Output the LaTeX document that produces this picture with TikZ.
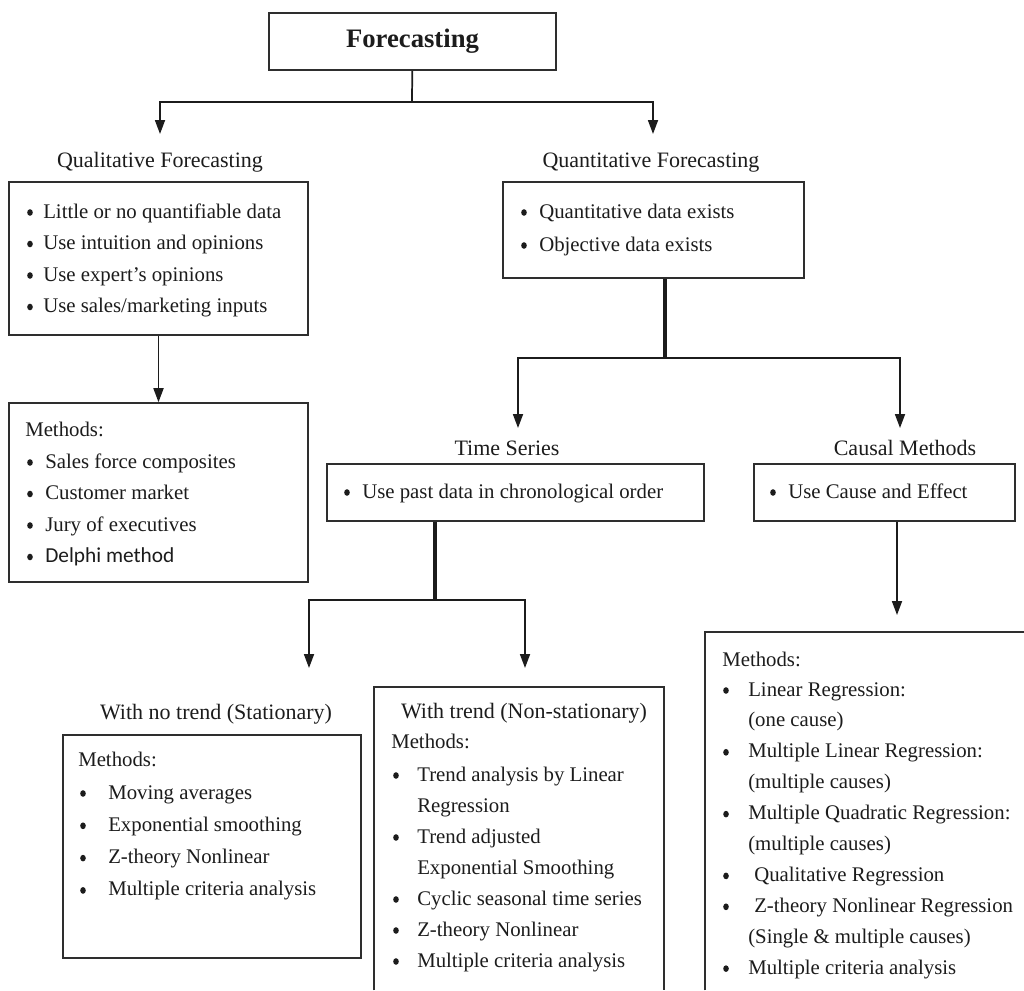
\documentclass[tikz,border=0pt]{standalone}
\usepackage{fontspec}
\setmainfont{Liberation Serif}
\newfontfamily\calibrisub{Carlito}
\usetikzlibrary{arrows.meta,fit,calc}

\definecolor{ink}{HTML}{1C1C1C}
\definecolor{edge}{HTML}{2E2E2E}

\tikzset{
  pbox/.style={draw=edge, line width=1.2pt, inner sep=0pt},
  ln/.style={draw=ink, line width=1.3pt},
  trunk/.style={draw=ink, line width=2.3pt},
  arr/.style={ln, -{Triangle[width=7.5pt,length=10.5pt]}},
  txt/.style={anchor=base west, inner sep=0pt, text=ink, font=\fontsize{15.6}{18}\selectfont},
  lab/.style={anchor=base, inner sep=0pt, text=ink, font=\fontsize{16.5}{19}\selectfont},
  dot/.style={ellipse, fill=ink, inner sep=0pt, minimum width=4.2pt, minimum height=5pt},
}

\newcommand\delphi{\calibrisub\fontsize{16}{19}\selectfont}

% bullet list: prefix, bullet x, text x, first baseline, line step, {flag/text,...}
% flag 1 = bullet, 0 = continuation line, 2 = bullet with a slightly indented text
\newcommand\itemlist[6]{%
  \foreach [count=\i] \f/\t in {#6} {%
    \pgfmathsetmacro\yy{#4+(\i-1)*#5}%
    \pgfmathsetmacro\xx{#3+6*(\f==2)}%
    \ifnum\f>0 \node[dot] (#1b\i) at (#2,\yy-5.5) {};\fi
    \node[txt] (#1t\i) at (\xx,\yy) {\t};
  }}

\usetikzlibrary{shapes.geometric}

\begin{document}
\begin{tikzpicture}[x=0.75pt,y=-0.75pt]
\useasboundingbox (0,0) rectangle (1024,990);
\fill[white] (0,0) rectangle (1024,990);

% root
\node[pbox, minimum width=215.25pt, minimum height=42.75pt,
      font=\bfseries\fontsize{20}{24}\selectfont, text=ink] (F) at (412.5,41.5) {Forecasting};
\coordinate (fj) at (412,102);
\coordinate (qualtip) at (160,134);
\coordinate (quanttip) at (653,134);
\draw[ln] (F) -- (fj);
\draw[arr] (fj) -| (qualtip);
\draw[arr] (fj) -| (quanttip);

% qualitative branch
\node[lab] (quallab) at (160,167) {Qualitative Forecasting};
\node[pbox, fit={(9,182)(308,335)}] (qual) {};
\itemlist{ql}{30}{43}{218}{31.5}{1/Little or no quantifiable data, 1/Use intuition and opinions, 1/Use expert’s opinions, 1/{Use sales/marketing inputs}}

\node[pbox, fit={(9,403)(308,582)}] (qmeth) {};
\draw[arr] (qual) -- (qmeth);
\node[txt] (qmhead) at (25,436) {Methods:};
\itemlist{qm}{30}{45}{468}{31.5}{1/Sales force composites, 1/Customer market, 1/Jury of executives, 1/{\delphi Delphi method}}

% quantitative branch
\node[lab] (quantlab) at (651,167) {Quantitative Forecasting};
\node[pbox, fit={(503,182)(804,278)}] (quant) {};
\itemlist{qn}{524}{539}{218}{33}{1/Quantitative data exists, 1/Objective data exists}
\coordinate (nj) at (665,358);
\coordinate (tstip) at (518,428);
\coordinate (cstip) at (900,428);
\draw[trunk] (quant.south -| nj) -- (nj);
\draw[arr] (nj) -| (tstip);
\draw[arr] (nj) -| (cstip);

% time series
\node[lab] (tslab) at (507,455) {Time Series};
\node[pbox, fit={(327,464)(704,521)}] (ts) {};
\itemlist{ts}{347}{362}{498}{0}{1/Use past data in chronological order}

% causal methods
\node[lab] (cslab) at (905,455) {Causal Methods};
\node[pbox, fit={(754,464)(1015,521)}] (cs) {};
\itemlist{cs}{773}{788}{498}{0}{1/Use Cause and Effect}

% time series split
\coordinate (tj) at (435,600);
\coordinate (sttip) at (309,668);
\coordinate (nstip) at (525,668);
\draw[trunk] (ts.south -| tj) -- (tj);
\draw[arr] (tj) -| (sttip);
\draw[arr] (tj) -| (nstip);

% causal down
\coordinate (cmtip) at (897,615);
\draw[arr] (cs.south -| cmtip) -- (cmtip);

% stationary
\node[lab] (stlab) at (216,719) {With no trend (Stationary)};
\node[pbox, fit={(63,735)(361,958)}] (st) {};
\node[txt] (sthead) at (78,766) {Methods:};
\itemlist{st}{83}{108}{799}{32.3}{1/Moving averages, 1/Exponential smoothing, 1/Z-theory Nonlinear, 1/Multiple criteria analysis}

% non-stationary (box runs off the bottom)
\node[inner sep=0pt, fit={(374,687)(664,990)}] (ns) {};
\draw[pbox] (ns.south west) -- (ns.north west) -- (ns.north east) -- (ns.south east);
\node[lab] (nslab) at (524,718) {With trend (Non-stationary)};
\node[txt] (nshead) at (391,748) {Methods:};
\itemlist{ns}{396}{417}{781}{31}{1/Trend analysis by Linear, 0/Regression, 1/Trend adjusted, 0/Exponential Smoothing, 1/Cyclic seasonal time series, 1/Z-theory Nonlinear, 1/Multiple criteria analysis}

% causal methods list (box runs off the bottom and right)
\node[inner sep=0pt, fit={(705,632)(1024,990)}] (cm) {};
\draw[pbox] (cm.south west) -- (cm.north west) -- (cm.north east);
\node[txt] (cmhead) at (722,666) {Methods:};
\itemlist{cm}{726}{748}{696}{30.9}{1/Linear Regression:, 0/{(one cause)}, 1/Multiple Linear Regression:, 0/{(multiple causes)}, 1/Multiple Quadratic Regression:, 0/{(multiple causes)}, 2/Qualitative Regression, 2/Z-theory Nonlinear Regression, 0/{(Single \& multiple causes)}, 1/Multiple criteria analysis}
\end{tikzpicture}
\end{document}
